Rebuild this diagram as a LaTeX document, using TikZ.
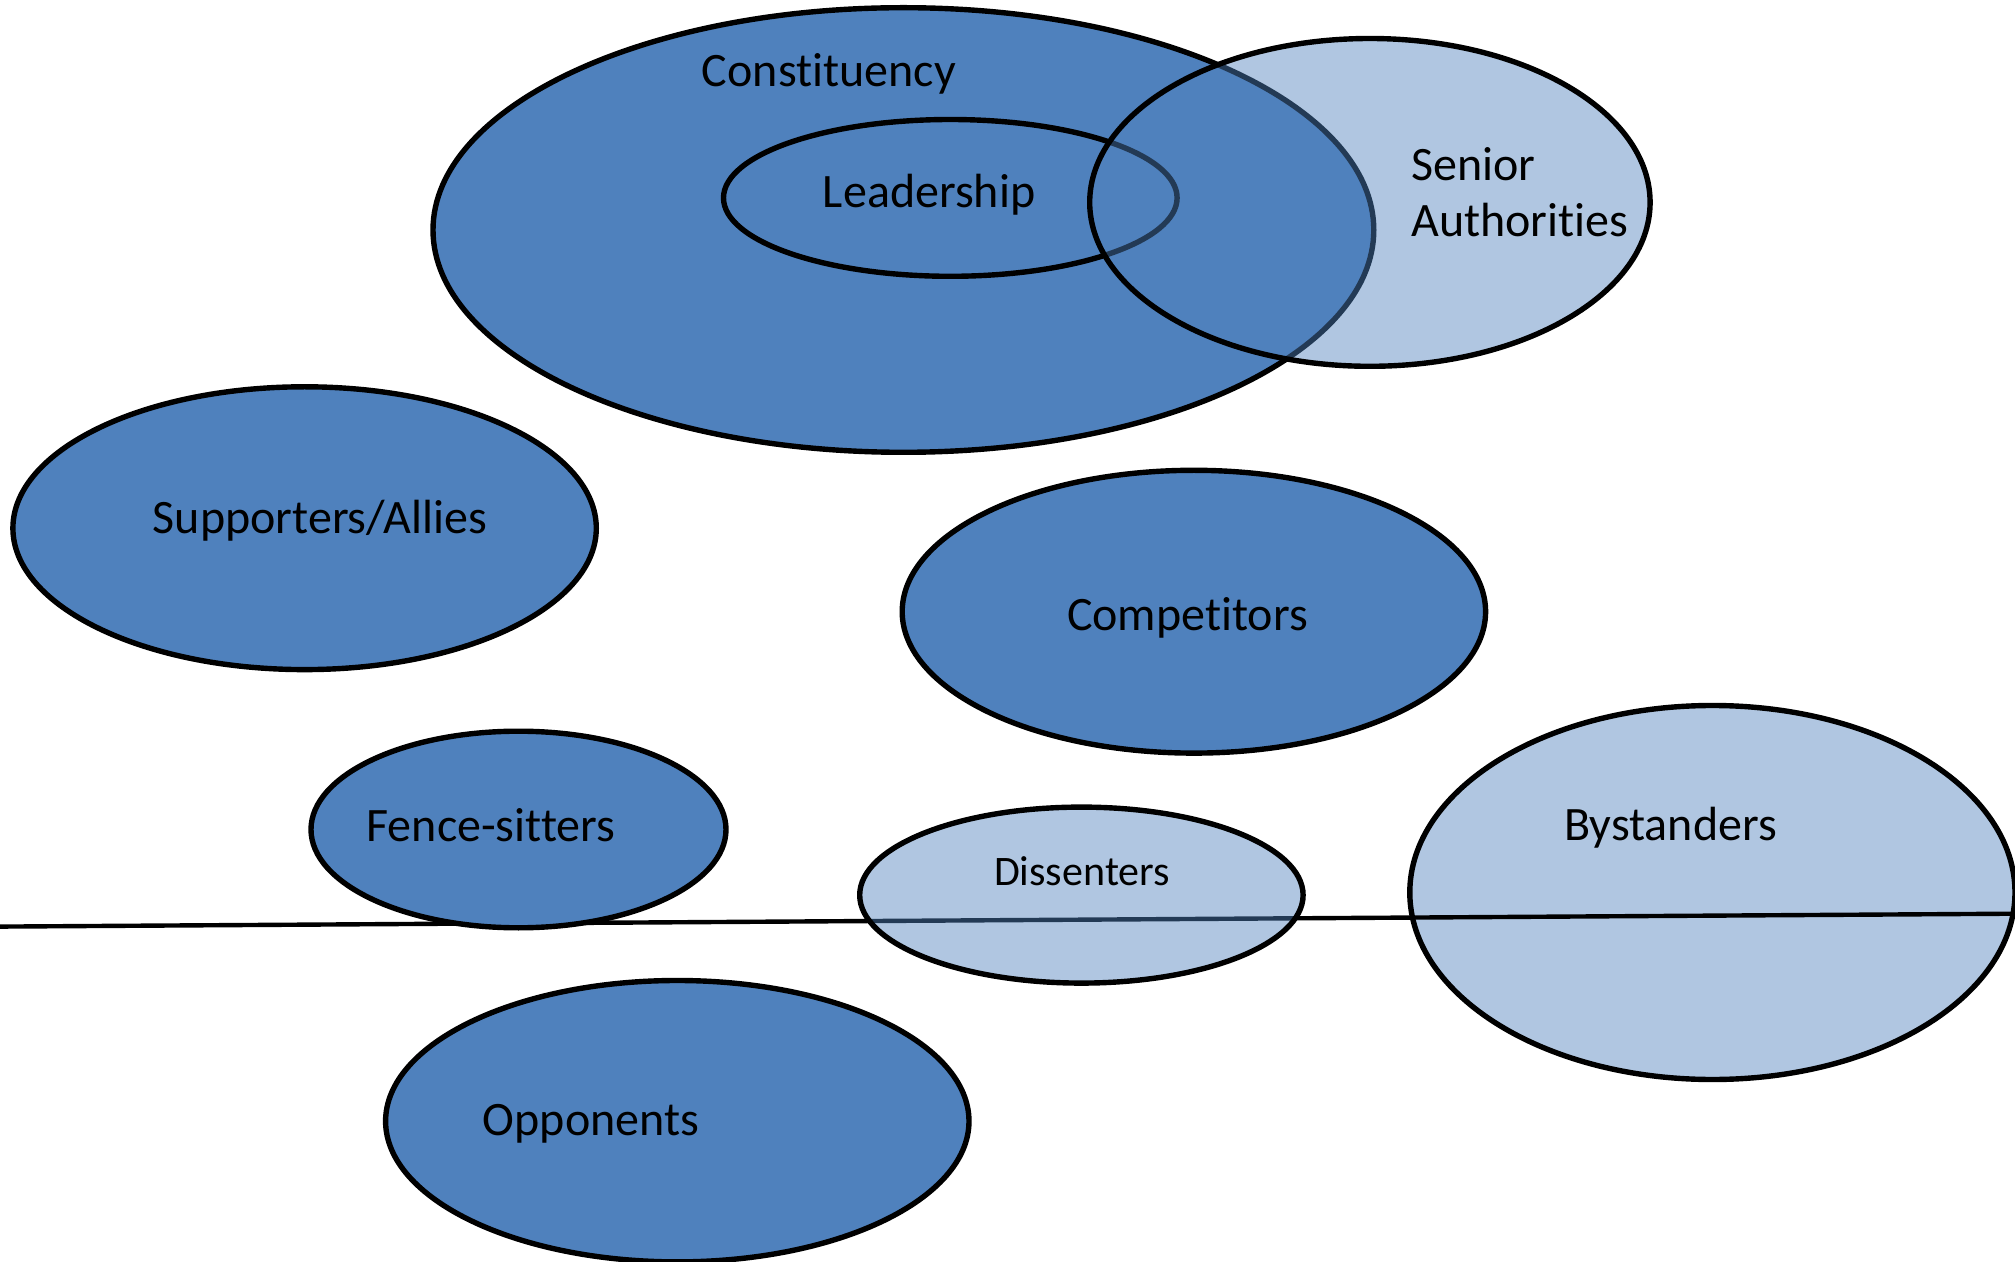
\documentclass[tikz,border=0pt]{standalone}
\usepackage{fontspec}
\setmainfont{Carlito}[Ligatures=NoCommon]
\usetikzlibrary{shapes.geometric}
\definecolor{ablue}{RGB}{79,129,189}
\tikzset{
  solidell/.style={ellipse, draw=black, line width=2.7pt, fill=ablue, inner sep=0pt},
  lightell/.style={ellipse, draw=black, line width=2.7pt, fill=ablue, fill opacity=0.45, draw opacity=1, inner sep=0pt},
  lbl/.style={font=\fontsize{24}{29}\selectfont, text=black, inner sep=0pt},
  slbl/.style={font=\fontsize{21}{25}\selectfont, text=black, inner sep=0pt}
}
\begin{document}
\begin{tikzpicture}[x=0.5pt,y=-0.5pt]
\useasboundingbox (0,0) rectangle (2015,1262);
\node[solidell, minimum width=470.4pt, minimum height=222.3pt] (const) at (903.4,230.0) {};
\node[solidell, minimum width=226.8pt, minimum height=78.4pt] (lead) at (950.3,197.9) {};
\node[lightell, minimum width=280.2pt, minimum height=163.9pt] (senior) at (1369.9,202.4) {};
\node[solidell, minimum width=291.7pt, minimum height=141.4pt] (supp) at (304.6,528.2) {};
\node[solidell, minimum width=291.7pt, minimum height=141.4pt] (comp) at (1193.9,611.7) {};
\node[lightell, minimum width=302.6pt, minimum height=187.0pt] (byst) at (1712.4,892.5) {};
\coordinate (L1) at (0,926.6);
\coordinate (L2) at (2015,913.7);
\draw[line width=2.2pt] (L1) -- (L2);
\node[solidell, minimum width=207.5pt, minimum height=98.3pt] (fence) at (518.5,829.5) {};
\node[lightell, minimum width=221.7pt, minimum height=88.0pt] (diss) at (1081.4,895.1) {};
\node[solidell, minimum width=291.7pt, minimum height=140.7pt] (opp) at (677.3,1121.2) {};
% labels
\node[lbl] (tconst) at (828.9,74) {Constituency};
\node[lbl] (tlead) at (929.1,194.5) {Leadership};
\node[lbl, anchor=west, align=left] (tsenior) at (1411,192.5) {Senior\\[-1pt]Authorities};
\node[lbl] (tsupp) at (320,521) {Supporters/Allies};
\node[lbl] (tcomp) at (1187.4,617.5) {Competitors};
\node[lbl] (tfence) at (490.9,825.5) {Fence-sitters};
\node[slbl] (tdiss) at (1082,871.5) {Dissenters};
\node[lbl] (tbyst) at (1670.6,828) {Bystanders};
\node[lbl] (topp) at (591.1,1123.6) {Opponents};
\end{tikzpicture}
\end{document}
